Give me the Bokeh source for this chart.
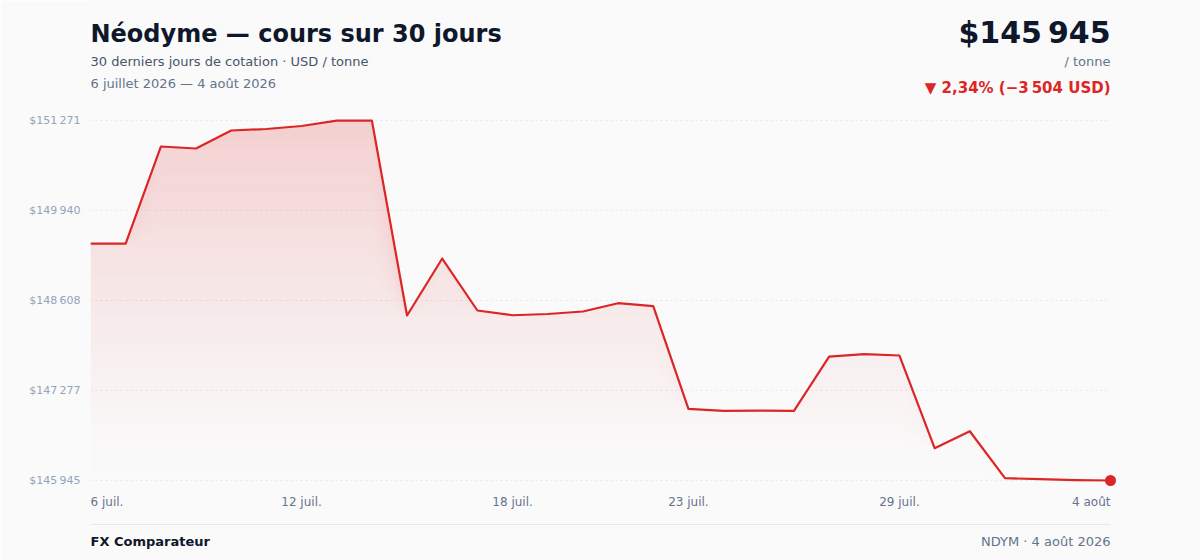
import numpy as np
from bokeh.plotting import figure
from bokeh.models import (Range1d, FixedTicker, Label, LabelSet, ColumnDataSource,
                          BoxAnnotation)
from bokeh.core.properties import field, value
from bokeh.embed import file_html
from bokeh.resources import INLINE

# 30 jours de cotation, 6 juillet -> 4 aout 2026 (USD / tonne)
days = list(range(30))
prices = [149449, 149449, 150886, 150857, 151123, 151145, 151190, 151268, 151271,
          148386, 149229, 148460, 148390, 148408, 148445, 148568, 148524,
          147006, 146976, 146978, 146975, 147779, 147814, 147794,
          146423, 146674, 145979, 145964, 145950, 145945]

xtick_idx = [0, 6, 12, 17, 23, 29]
xtick_labels = ["6 juil.", "12 juil.", "18 juil.", "23 juil.", "29 juil.", "4 août"]
xtick_align = ["left", "center", "center", "center", "center", "right"]
ytick_vals = [145945, 147277, 148608, 149940, 151271]

FONT = "DejaVu Sans"
RED = "#dc2626"
BG = "#fafafa"


def fr(n):
    return f"{n:,}".replace(",", "\u202f")


# page pixels: zone des donnees 90..1110 x 120..480, cadre = 90..1200 x 0..560
W, H = 1200, 560
FL = 90
lo, hi = min(prices), max(prices)
dpp = (hi - lo) / 360.0
upx = 29 / 1020.0

p = figure(width=W, height=H, output_backend="svg", toolbar_location=None,
           x_axis_location=None,
           x_range=Range1d(0, 29 + (W - 1110) * upx),
           y_range=Range1d(lo - (H - 480) * dpp, hi + 120 * dpp),
           min_border_left=FL, min_border_right=0, min_border_top=0, min_border_bottom=0,
           background_fill_color=BG, border_fill_color=BG, outline_line_color=None)

p.xgrid.visible = False
p.ygrid.visible = False

yax = p.yaxis[0]
yax.ticker = FixedTicker(ticks=ytick_vals)
yax.major_label_overrides = {v: "$" + fr(v) for v in ytick_vals}
yax.axis_line_color = None
yax.major_tick_line_color = None
yax.minor_tick_line_color = None
yax.major_tick_out = 0
yax.major_tick_in = 0
yax.major_label_standoff = 10
yax.major_label_text_font = FONT
yax.major_label_text_font_size = "11px"
yax.major_label_text_color = "#94a3b8"

# grille pointillee
p.segment(x0=[days[0]] * len(ytick_vals), x1=[days[-1]] * len(ytick_vals),
          y0=ytick_vals, y1=ytick_vals, line_color="#e2e8f0", line_width=1,
          line_dash="2 3")

# degrade rouge sous la courbe
arr = np.array(prices, dtype=float)
n = 40
edges = np.linspace(hi, lo, n + 1)
for j in range(n):
    t = (j + 0.5) / n
    a = 0.2 * (1 - t) ** 1.3
    p.varea(x=days, y1=np.minimum(arr, edges[j + 1]), y2=np.minimum(arr, edges[j]),
            fill_color=RED, fill_alpha=a)

p.line(days, prices, line_color=RED, line_width=2.2, line_join="round")
p.scatter([days[-1]], [prices[-1]], size=11, fill_color=RED, line_color=None)

# axe x : etiquettes
src = ColumnDataSource(dict(x=xtick_idx, y=[H - 505] * len(xtick_idx),
                            text=xtick_labels, align=xtick_align))
p.add_layout(LabelSet(x="x", y="y", y_units="screen", text="text", source=src,
                      text_align=field("align"), text_baseline="alphabetic",
                      text_font=value(FONT), text_font_size=value("12px"),
                      text_color="#64748b"))


def lab(text, px, py, size, color, bold=False, align="left"):
    p.add_layout(Label(x=px - FL, y=H - py, x_units="screen", y_units="screen",
                       text=text, text_font=FONT, text_font_size=size,
                       text_font_style="bold" if bold else "normal",
                       text_color=color, text_align=align, text_baseline="alphabetic"))


first, last = prices[0], prices[-1]
diff = last - first
pct = abs(diff) / first * 100
arrow = "▼" if diff < 0 else "▲"
change = f"{arrow} {pct:.2f}% (−{fr(abs(diff))} USD)".replace(".", ",")

lab("Néodyme — cours sur 30 jours", 90, 33.5, "24px", "#0f172a", bold=True)
lab("30 derniers jours de cotation · USD / tonne", 90, 61, "13px", "#475569")
lab("6 juillet 2026 — 4 août 2026", 90, 83, "13px", "#64748b")
lab("$" + fr(last), 1110, 31.5, "30px", "#0f172a", bold=True, align="right")
lab("/ tonne", 1110, 61, "13px", "#64748b", align="right")
lab(change, 1110, 87, "15px", RED, bold=True, align="right")
lab("FX Comparateur", 90, 541, "13px", "#0f172a", bold=True)
lab("NDYM · 4 août 2026", 1110, 541, "13px", "#64748b", align="right")

p.add_layout(BoxAnnotation(left=0, right=1110 - FL, top=H - 523.5, bottom=H - 524.5,
                           left_units="screen", right_units="screen",
                           top_units="screen", bottom_units="screen",
                           fill_color="#e5e7eb", fill_alpha=1, line_color=None))

open("out.html", "w").write(file_html(p, INLINE))
